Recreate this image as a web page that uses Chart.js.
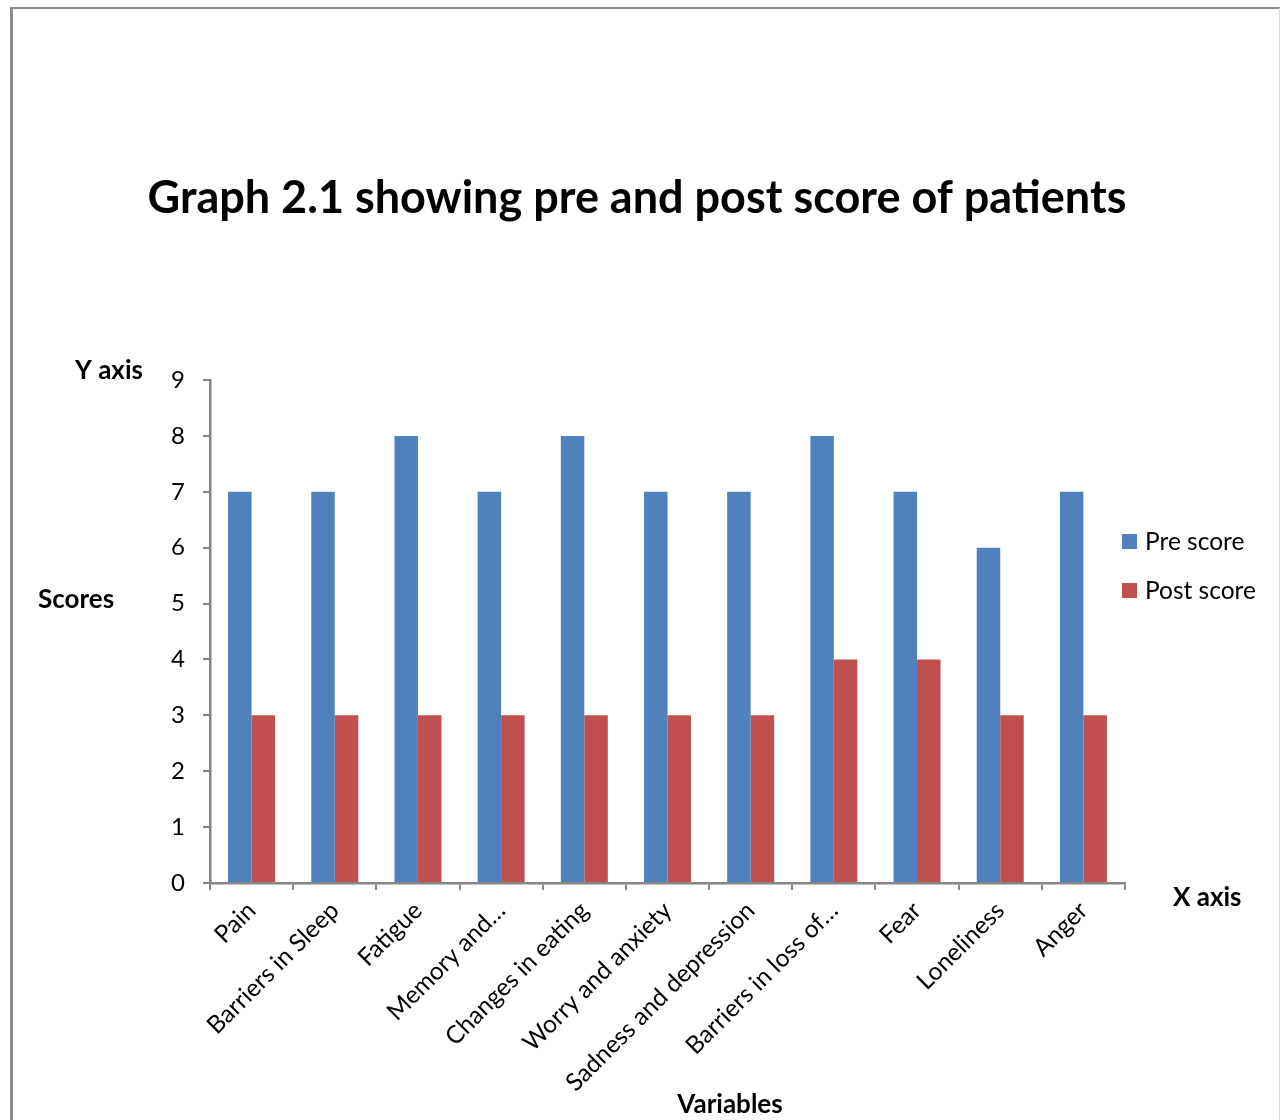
<!DOCTYPE html>
<html>
<head>
<meta charset="utf-8">
<script src="https://cdn.jsdelivr.net/npm/chart.js@4.4.1/dist/chart.umd.min.js"></script>
<style>
  html, body { margin: 0; padding: 0; background: #fff; }
  #wrap { position: relative; width: 1281px; height: 1120px; overflow: hidden; }
  #frame {
    position: absolute; left: 10px; top: 7px; width: 1266px; height: 1130px;
    border-left: 3px solid #8a8a8a; border-top: 2px solid #8a8a8a; border-right: 1px solid #d9d9d9;
  }
  #graph { position: absolute; left: 0; top: 0; }
</style>
</head>
<body>
<div id="wrap">
  <div id="frame"></div>
  <canvas id="graph" width="1281" height="1120"></canvas>
</div>
<script>
var variables = ['Pain', 'Barriers in Sleep', 'Fatigue', 'Memory and\u2026', 'Changes in eating',
                 'Worry and anxiety', 'Sadness and depression', 'Barriers in loss of\u2026', 'Fear',
                 'Loneliness', 'Anger'];
var preScore = [7, 7, 8, 7, 8, 7, 7, 8, 7, 6, 7];
var postScore = [3, 3, 3, 3, 3, 3, 3, 4, 4, 3, 3];
var yTicks = [0, 1, 2, 3, 4, 5, 6, 7, 8, 9];

var FONT = 'Lato, "Open Sans", sans-serif';
var AXIS_GREY = '#868686';

// titles, axis captions and the legend are painted by hand
var decorations = {
    id: 'decorations',
    afterDraw: function(chart) {
        var ctx = chart.ctx;
        var area = chart.chartArea;
        ctx.save();
        ctx.fillStyle = '#000';
        ctx.textBaseline = 'middle';

        ctx.font = 'bold 45px ' + FONT;
        ctx.textAlign = 'center';
        ctx.fillText('Graph 2.1 showing pre and post score of patients', 637, 198);

        ctx.font = 'bold 26px ' + FONT;
        ctx.textAlign = 'left';
        ctx.fillText('Y axis', 75, area.top - 9);
        ctx.fillText('Scores', 38, 600);
        ctx.fillText('X axis', area.right + 48, area.bottom + 15);
        ctx.textAlign = 'center';
        ctx.fillText('Variables', 730, 1105);

        // legend
        ctx.font = '24.5px ' + FONT;
        ctx.textAlign = 'left';
        chart.data.datasets.forEach(function(ds, i) {
            var y = area.top + 161 + i * 49;
            ctx.fillStyle = ds.backgroundColor;
            ctx.fillRect(area.right - 3, y - 7, 15, 15);
            ctx.fillStyle = '#000';
            ctx.fillText(ds.label, area.right + 20, y + 1);
        });
        ctx.restore();
    }
};

new Chart(document.getElementById('graph'), {
    type: 'bar',
    data: {
        labels: variables,
        datasets: [
            { label: 'Pre score', data: preScore, backgroundColor: '#4F81BD' },
            { label: 'Post score', data: postScore, backgroundColor: '#C0504D' }
        ]
    },
    options: {
        responsive: false,
        animation: false,
        events: [],
        layout: { padding: { left: 0, right: 156, top: 380, bottom: 0 } },
        datasets: { bar: { categoryPercentage: 0.565, barPercentage: 1 } },
        plugins: { legend: { display: false }, title: { display: false }, tooltip: { enabled: false } },
        scales: {
            x: {
                grid: { drawOnChartArea: false, color: AXIS_GREY, lineWidth: 2, tickLength: 7 },
                border: { color: AXIS_GREY, width: 2.5 },
                ticks: { color: '#000', font: { family: FONT, size: 24.5 }, maxRotation: 45, minRotation: 45,
                         autoSkip: false, padding: 6 },
                afterFit: function(scale) { scale.height = 237; }
            },
            y: {
                min: 0, max: 9,
                grid: { drawOnChartArea: false, color: AXIS_GREY, lineWidth: 2, tickLength: 7 },
                border: { color: AXIS_GREY, width: 2.5 },
                ticks: { color: '#000', font: { family: FONT, size: 24 }, padding: 18, stepSize: 1,
                         callback: function(v) { return yTicks.indexOf(v) >= 0 ? v : ''; } },
                afterFit: function(scale) { scale.width = 210; }
            }
        }
    },
    plugins: [decorations]
});
</script>
</body>
</html>
